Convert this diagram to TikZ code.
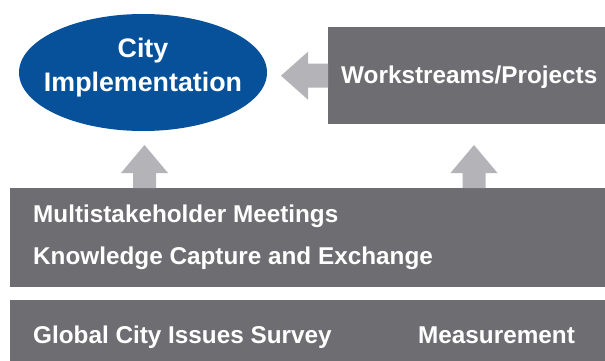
\documentclass[tikz,border=0pt]{standalone}
\usepackage{fontspec}
\setmainfont{Liberation Sans}
\usetikzlibrary{calc,shapes.geometric}
\definecolor{boxgray}{RGB}{110,109,114}
\definecolor{arrowgray}{RGB}{179,179,184}
\definecolor{cityblue}{RGB}{7,81,155}
\tikzset{
  graybox/.style={fill=boxgray, draw=none, rectangle, inner sep=0pt, anchor=north west},
  cityshape/.style={ellipse, fill=cityblue, draw=none, inner sep=0pt, minimum width=248pt, minimum height=117pt},
  citytxt/.style={text=white, font=\bfseries\fontsize{26.8}{34}\selectfont, align=center, inner sep=0pt},
  boxtxt/.style={text=white, font=\bfseries\fontsize{24.3}{29}\selectfont, inner sep=0pt, anchor=base west},
  blockarrow/.style={fill=arrowgray, draw=none}
}
\begin{document}
\begin{tikzpicture}[x=1pt,y=-1pt]
\useasboundingbox (0,0) rectangle (605,361);
% nodes
\node[cityshape] (city) at (143,72.5) {};
\node[citytxt] (citylbl) at ([yshift=5pt]city.center) {City\\Implementation};
\node[graybox, minimum width=277pt, minimum height=97pt] (ws) at (328,27) {};
\node[boxtxt] (wslbl) at ($(ws.north west)+(13,56)$) {Workstreams/Projects};
\node[graybox, minimum width=595pt, minimum height=99pt] (mid) at (10,188) {};
\node[boxtxt] (msm) at ($(mid.north west)+(23,34)$) {Multistakeholder Meetings};
\node[boxtxt] (kce) at ($(mid.north west)+(23,76)$) {Knowledge Capture and Exchange};
\node[graybox, minimum width=595pt, minimum height=61pt] (bot) at (10,300) {};
\node[boxtxt] (gcis) at ($(bot.north west)+(23,43)$) {Global City Issues Survey};
\node[boxtxt] (meas) at ($(bot.north west)+(408,43)$) {Measurement};
% arrow anchors
\coordinate (lbase) at (mid.north -| 144.5,0);
\coordinate (rbase) at (mid.north -| 474,0);
% left arrow: Workstreams -> City
\fill[blockarrow] (ws.west) ++(0,-12) -- ++(-20,0) -- ++(0,-12) -- ++(-27,24)
  -- ++(27,24) -- ++(0,-12) -- ++(20,0) -- cycle;
% up arrows
\fill[blockarrow] (lbase) ++(-11.5,0) -- ++(0,-15) -- ++(-12,0) -- ++(23.5,-28)
  -- ++(23.5,28) -- ++(-12,0) -- ++(0,15) -- cycle;
\fill[blockarrow] (rbase) ++(-11.5,0) -- ++(0,-15) -- ++(-12,0) -- ++(23.5,-28)
  -- ++(23.5,28) -- ++(-12,0) -- ++(0,15) -- cycle;
\end{tikzpicture}
\end{document}
